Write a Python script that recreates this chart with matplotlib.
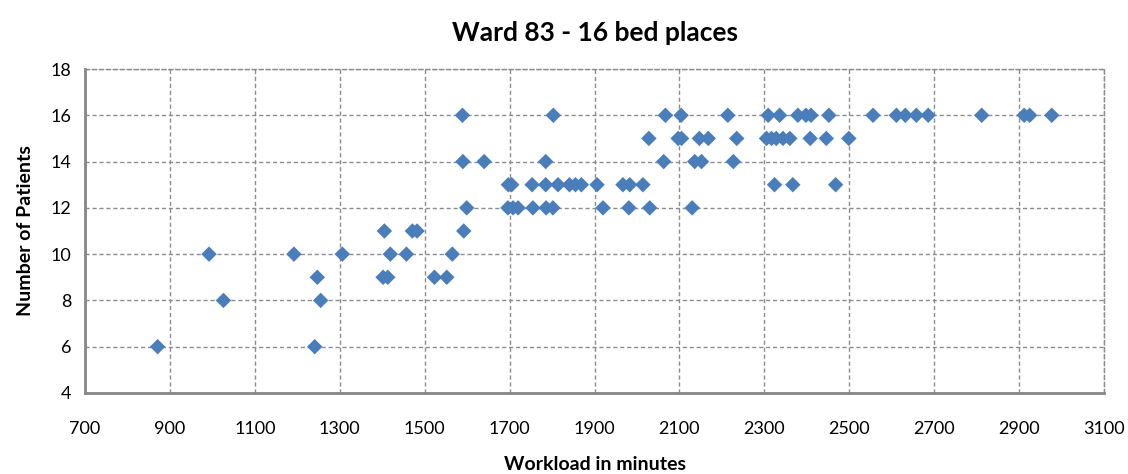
import matplotlib.pyplot as plt

# workload (minutes) vs number of patients on the ward
patients_6 = [871, 1241]
patients_8 = [1026, 1255]
patients_9 = [1247, 1402, 1413, 1523, 1552]
patients_10 = [992, 1192, 1306, 1419, 1457, 1565]
patients_11 = [1405, 1471, 1482, 1592]
patients_12 = [1599, 1696, 1708, 1720, 1755, 1786, 1802, 1920, 1981, 2030, 2130]
patients_13 = [1697, 1705, 1753, 1785, 1814, 1841, 1855, 1869, 1906, 1967,
               1983, 2014, 2324, 2367, 2468]
patients_14 = [1590, 1640, 1785, 2063, 2136, 2152, 2227]
patients_15 = [2028, 2097, 2105, 2147, 2168, 2235, 2305, 2317, 2328, 2344,
               2360, 2408, 2446, 2499]
patients_16 = [1589, 1803, 2067, 2104, 2214, 2309, 2336, 2379, 2398, 2410,
               2452, 2556, 2611, 2632, 2658, 2686, 2812, 2912, 2925, 2977]

groups = {6: patients_6, 8: patients_8, 9: patients_9, 10: patients_10,
          11: patients_11, 12: patients_12, 13: patients_13, 14: patients_14,
          15: patients_15, 16: patients_16}

workload = []
patients = []
for n, xs in groups.items():
    workload += xs
    patients += [n] * len(xs)

x_ticks = list(range(700, 3101, 200))
y_ticks = list(range(4, 19, 2))

plt.rcParams['font.family'] = ['Lato', 'DejaVu Sans']

fig = plt.figure(figsize=(11.28, 4.74), dpi=100)
ax = fig.add_axes([0.0754, 0.1709, 0.9033, 0.6835])

ax.scatter(workload, patients, marker='D', s=62, color='#4a7ebb',
           edgecolors='none', zorder=3)

ax.set_xlim(700, 3100)
ax.set_ylim(4, 18)
ax.set_xticks(x_ticks)
ax.set_yticks(y_ticks)
ax.grid(True, color='#8c8c8c', linestyle=(0, (3, 2)), linewidth=1)
ax.tick_params(length=0, labelsize=13, pad=10)
ax.tick_params(axis='x', pad=20)

for side in ['left', 'bottom']:
    ax.spines[side].set_color('#868686')
    ax.spines[side].set_linewidth(2)
for side in ['top', 'right']:
    ax.spines[side].set_color('#8c8c8c')
    ax.spines[side].set_linestyle((0, (3, 2)))
    ax.spines[side].set_linewidth(1)

ax.set_title("Ward 83 - 16 bed places", fontsize=19, fontweight='bold', pad=20)
ax.set_xlabel("Workload in minutes", fontsize=14, fontweight='bold', labelpad=14)
ax.set_ylabel("Number of Patients", fontsize=14, fontweight='bold', labelpad=12)

fig.savefig("out.png", dpi=100)
